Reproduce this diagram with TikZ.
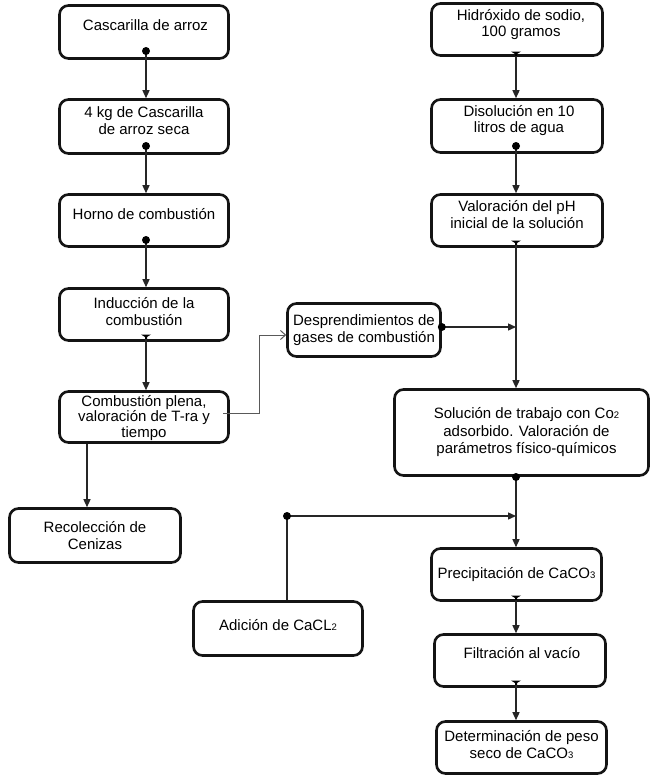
\documentclass[tikz,border=0pt]{standalone}
\usepackage{fontspec}
\setmainfont{Liberation Sans}
\usetikzlibrary{arrows.meta,calc}
\newcommand\smallsub[1]{{\fontsize{9.5}{9.5}\selectfont #1}}
% text block raised by #1, shifted right by half of #2
\newcommand\txt[3]{\hspace*{#2}\raisebox{#1}[\height][\depth]{\begin{tabular}{@{}c@{}}#3\end{tabular}}}
\newcommand\teemark[1]{\fill[black] ([shift={(-5pt,1.5pt)}]#1) -- ([shift={(5pt,1.5pt)}]#1) -- ([shift={(1pt,-1pt)}]#1) -- ([shift={(1pt,-3pt)}]#1) -- ([shift={(-1pt,-3pt)}]#1) -- ([shift={(-1pt,-1pt)}]#1) -- cycle;}
\begin{document}
\begin{tikzpicture}[x=1pt,y=-1pt,
  box/.style={draw=black!92, line width=2.6pt, rounded corners=9pt, fill=white, align=center,
    font=\fontsize{15}{16.6}\selectfont, inner sep=0pt},
  conn/.style={draw=black!85, line width=1.4pt, -{Triangle[length=8pt,width=7pt]}},
  thinconn/.style={draw=black!65, line width=1pt, -{Straight Barb[length=5pt,width=9pt]}},
  dotm/.style={fill=black}]
\useasboundingbox (0,0) rectangle (652,777);
\fill[white] (0,0) rectangle (652,777);
% left column
\node[box, minimum width=169pt, minimum height=53pt] (b1) at (144,32) {\txt{5pt}{3pt}{Cascarilla de arroz}};
\node[box, minimum width=169pt, minimum height=54pt] (b2) at (144,126.5) {\txt{4pt}{0pt}{4 kg de Cascarilla\\de arroz seca}};
\node[box, minimum width=169pt, minimum height=52pt] (b3) at (144,220.5) {\txt{4.5pt}{0pt}{Horno de combustión}};
\node[box, minimum width=169pt, minimum height=52pt] (b4) at (144,314.5) {\txt{1pt}{0pt}{Inducción de la\\combustión}};
\node[box, minimum width=169pt, minimum height=51pt, font=\fontsize{15}{15.6}\selectfont] (b5) at (144,417) {\txt{-1.5pt}{0pt}{Combustión plena,\\valoración de T-ra y\\tiempo}};
\node[box, minimum width=171pt, minimum height=54pt] (rec) at (95,535.5) {Recolección de\\Cenizas};
\node[box, minimum width=153pt, minimum height=53pt] (desp) at (364,330) {Desprendimientos de\\gases de combustión};
\node[box, minimum width=169pt, minimum height=54pt] (adi) at (278,628.5) {\txt{1.5pt}{0pt}{Adición de CaCL\smallsub{2}}};
% right column
\node[box, minimum width=171pt, minimum height=52pt] (h) at (517,29.5) {\txt{4.5pt}{8pt}{Hidróxido de sodio,\\100 gramos}};
\node[box, minimum width=171pt, minimum height=53pt] (dis) at (517,126) {\txt{5pt}{4pt}{Disolución en 10\\litros de agua}};
\node[box, minimum width=171pt, minimum height=52pt] (val) at (517,220.5) {\txt{4pt}{0pt}{Valoración del pH\\inicial de la solución}};
\node[box, minimum width=254pt, minimum height=86pt, font=\fontsize{15}{17.5}\selectfont] (sol) at (521.5,432.5) {\txt{0pt}{10pt}{Solución de trabajo con Co\smallsub{2}\\adsorbido. Valoración de\\parámetros físico-químicos}};
\node[box, minimum width=170pt, minimum height=52pt] (pre) at (516.5,574.5) {Precipitación de CaCO\smallsub{3}};
\node[box, minimum width=171pt, minimum height=52pt] (fil) at (520,660.5) {\txt{5.5pt}{4pt}{Filtración al vacío}};
\node[box, minimum width=170pt, minimum height=52pt] (det) at (521.5,747.5) {\txt{1pt}{0pt}{Determinación de peso\\seco de CaCO\smallsub{3}}};

% left connectors
\coordinate (d1) at (146,51);
\draw[conn] (d1) -- (d1 |- b2.north);
\fill[dotm] (d1) circle (4pt);
\coordinate (d2) at (146,146);
\draw[conn] (d2) -- (d2 |- b3.north);
\fill[dotm] (d2) circle (4pt);
\coordinate (d3) at (146,240);
\draw[conn] (d3) -- (d3 |- b4.north);
\fill[dotm] (d3) circle (4pt);
\coordinate (t4) at (146,336);
\draw[conn] (t4) -- (t4 |- b5.north);
\teemark{t4}
\coordinate (r0) at (87,444);
\draw[conn] (r0 |- b5.south) -- (r0 |- rec.north);
% gases
\coordinate (g0) at (223,413);
\coordinate (g1) at (259,413);
\path ([yshift=-5pt]desp.west) coordinate (gx);
\draw[thinconn] (g0) -- (g1) -- (g1 |- gx) -- (gx);

% right connectors
\coordinate (tH) at (516,53);
\draw[conn] (tH) -- (tH |- dis.north);
\teemark{tH}
\coordinate (dD) at (516,146);
\draw[conn] (dD) -- (dD |- val.north);
\fill[dotm] (dD) circle (4pt);
\coordinate (tV) at (516,242);
\draw[conn] (tV) -- (tV |- sol.north);
\teemark{tV}
\coordinate (j1) at (516,327);
\draw[conn] ([yshift=3pt]desp.east) -- (j1);
\fill[dotm] ([yshift=3pt]desp.east) circle (4pt);
\coordinate (dS) at (516,477);
\draw[conn] (dS) -- (dS |- pre.north);
\fill[dotm] (dS) circle (4pt);
\coordinate (cA) at (287,516);
\coordinate (j2) at (516,516);
\draw[conn] (cA |- adi.north) -- (cA) -- (j2);
\fill[dotm] (cA) circle (4pt);
\coordinate (tP) at (516,597);
\draw[conn] (tP) -- (tP |- fil.north);
\teemark{tP}
\coordinate (tF) at (516,682);
\draw[conn] (tF) -- (tF |- det.north);
\teemark{tF}
\end{tikzpicture}
\end{document}
